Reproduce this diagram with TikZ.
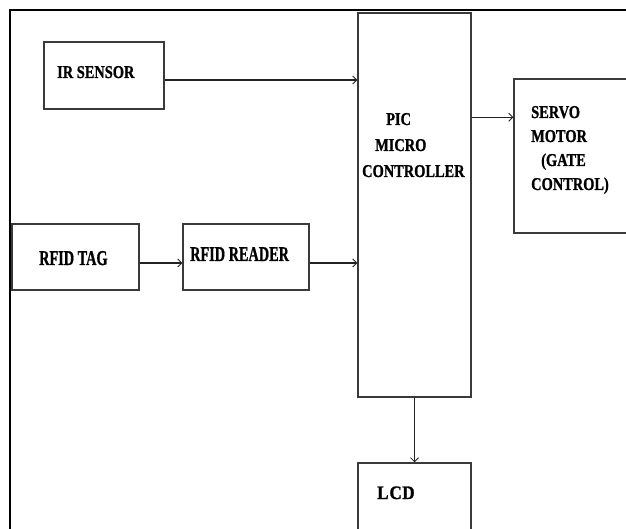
\documentclass[tikz,border=0pt]{standalone}
\usepackage{fontspec}
\usepackage{graphicx}
\usetikzlibrary{arrows.meta}
\setmainfont{Liberation Serif}
\newfontfamily\labfont{Liberation Serif Bold}[FakeBold=1.2]
\definecolor{boxc}{HTML}{3A3A3A}
\definecolor{arrc}{HTML}{222222}
\newcommand\lt[3]{\scalebox{#1}[1]{\fontsize{#2}{#2}\selectfont\labfont #3}}
\tikzset{
  box/.style={draw=boxc, line width=1.5pt, inner sep=0pt, rectangle},
  arr/.style={draw=arrc, line width=1.2pt, -{Straight Barb[length=4pt,width=8pt,line width=0.8pt]}},
  txt/.style={inner sep=0pt, anchor=base west, text=black},
}
\begin{document}
\begin{tikzpicture}[x=1pt,y=-1pt]
\clip (0,0) rectangle (626,529);
\fill[white] (0,0) rectangle (626,529);
% outer frame
\draw[black, line width=2.5pt] (630,10) -- (10,10) -- (10,540);
% boxes
\node[box, minimum width=120pt, minimum height=67pt] (ir) at (104,75.5) {};
\node[box, minimum width=113pt, minimum height=384pt] (pic) at (414.5,205) {};
\node[box, minimum width=118pt, minimum height=154pt] (servo) at (573,156) {};
\node[box, minimum width=127pt, minimum height=66pt] (tag) at (75.5,257) {};
\node[box, minimum width=126pt, minimum height=66pt] (reader) at (246,257) {};
\node[box, minimum width=113pt, minimum height=80pt] (lcd) at (414.5,503) {};
% texts
\node[txt] (tir) at (57,78) {\lt{0.8}{18}{IR SENSOR}};
\node[txt] (tpic1) at (386,125) {\lt{0.8}{18}{PIC}};
\node[txt] (tpic2) at (375,151) {\lt{0.8}{18}{MICRO}};
\node[txt] (tpic3) at (362,177) {\lt{0.8}{18}{CONTROLLER}};
\node[txt] (ts1) at (531,118) {\lt{0.8}{18}{SERVO}};
\node[txt] (ts2) at (531,142) {\lt{0.8}{18}{MOTOR}};
\node[txt] (ts3) at (541,166) {\lt{0.8}{18}{(GATE}};
\node[txt] (ts4) at (531,190) {\lt{0.8}{18}{CONTROL)}};
\node[txt] (ttag) at (39,265) {\lt{0.68}{21}{RFID TAG}};
\node[txt] (trd) at (190,261) {\lt{0.68}{21}{RFID READER}};
\node[txt] (tlcd) at (377,499) {\lt{0.9}{19}{L\kern1pt C\kern0.5pt D}};
% connectors
\coordinate (a1) at ([yshift=-4.5pt]ir.east);
\draw[arr] (a1) -- (a1 -| pic.west);
\coordinate (a2) at ([yshift=-6pt]tag.east);
\draw[arr] (a2) -- (a2 -| reader.west);
\coordinate (a3) at ([yshift=-6pt]reader.east);
\draw[arr] (a3) -- (a3 -| pic.west);
\coordinate (a4) at ([yshift=-39pt]servo.north west);
\draw[arr] (a4 -| pic.east) -- (a4);
\draw[arr] (pic.south) -- (lcd.north);
\end{tikzpicture}
\end{document}
